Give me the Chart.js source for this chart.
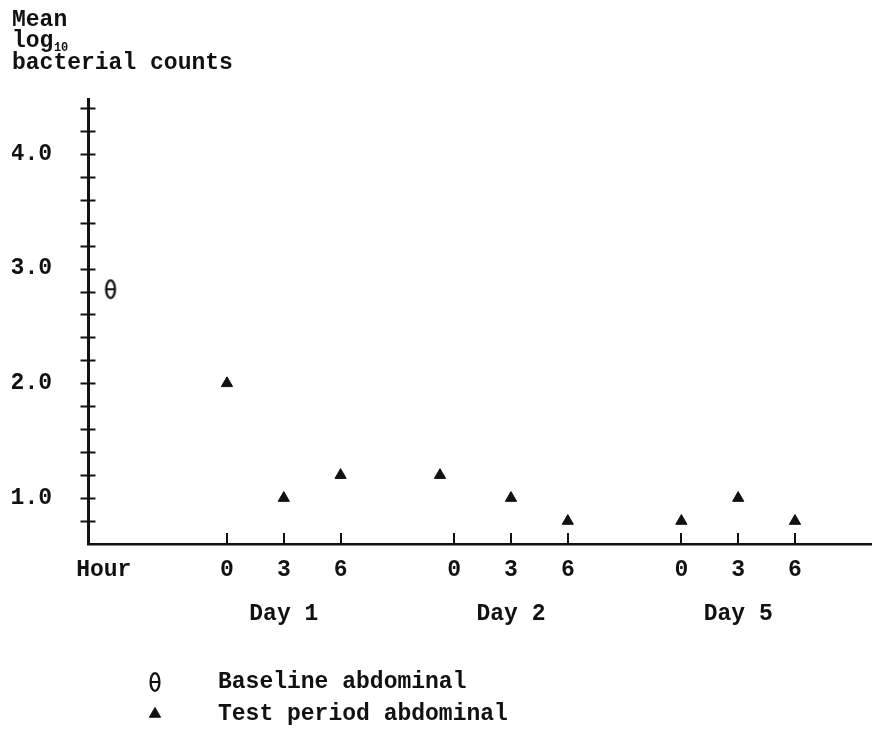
<!DOCTYPE html>
<html>
<head>
<meta charset="utf-8">
<script src="https://cdn.jsdelivr.net/npm/chart.js@4/dist/chart.umd.min.js"></script>
<style>
  html, body { margin: 0; padding: 0; background: #fff; }
  #wrap { width: 872px; height: 736px; position: relative; }
</style>
</head>
<body>
<div id="wrap"><canvas id="c"></canvas></div>
<script>
// Sampling slots along the time axis (one slot = 3 hours, gap between days)
const hourTickPos = [-2.17, 0, 1, 2, 4, 5, 6, 8, 9, 10];
const hourTickLabels = ['Hour', '0', '3', '6', '0', '3', '6', '0', '3', '6'];
const dayTickPos = [1, 5, 9];
const dayTickLabels = ['Day 1', 'Day 2', 'Day 5'];

// Y axis: minor ticks every 0.2, labels on whole values
const yLabelValues = [1, 2, 3, 4];
const yTickLabels = ['1.0', '2.0', '3.0', '4.0'];

// Mean log10 bacterial counts
const baselineX = [-2.05];
const baselineY = [2.82];
const testX = [0, 1, 2, 3.75, 5, 6, 8, 9, 10];
const testY = [2.0, 1.0, 1.2, 1.2, 1.0, 0.8, 0.8, 1.0, 0.8];

const seriesNames = ['Baseline abdominal', 'Test period abdominal'];
const titleLines = ['Mean', 'log', 'bacterial counts'];
const titleSubscript = '10';

const INK = '#111';
const FONT = { family: '"Liberation Mono", "DejaVu Sans Mono", monospace', size: 23, weight: 'bold' };
const TITLE_LH = 0.94;
const TITLE_PAD = { top: 9, bottom: 26 };

// Typewriter-style theta marker used for the baseline reading
function thetaMark() {
  const c = document.createElement('canvas');
  c.width = 14; c.height = 22;
  const g = c.getContext('2d');
  g.strokeStyle = INK; g.lineWidth = 2.3;
  g.beginPath(); g.ellipse(7, 11, 4.4, 8.8, 0, 0, Math.PI * 2); g.stroke();
  g.lineWidth = 2;
  g.beginPath(); g.moveTo(3, 11); g.lineTo(11, 11); g.stroke();
  return c;
}

// Small "10" subscript after "log" in the axis caption
const captionSubscript = {
  id: 'captionSubscript',
  afterDraw(chart) {
    const tb = chart.titleBlock;
    if (!tb) return;
    const { ctx } = chart;
    const lh = FONT.size * TITLE_LH;
    ctx.save();
    ctx.font = Chart.helpers.toFont(FONT).string;
    const w = ctx.measureText(titleLines[1]).width;
    ctx.font = Chart.helpers.toFont({ family: FONT.family, size: 12, weight: 'bold' }).string;
    ctx.fillStyle = INK;
    ctx.textBaseline = 'middle';
    ctx.textAlign = 'left';
    ctx.fillText(titleSubscript, tb.left + w + 0.5, tb.top + TITLE_PAD.top + 1.5 * lh + 7);
    ctx.restore();
  }
};

// Tick marks that cross the y axis and rise from the x axis
const crossTicks = {
  id: 'crossTicks',
  afterDraw(chart, args, opts) {
    const { ctx } = chart;
    const ys = chart.scales.y, xs = chart.scales.x;
    ctx.save();
    ctx.strokeStyle = INK;
    ctx.lineWidth = 2;
    ctx.lineCap = 'butt';
    ys.ticks.forEach(t => {
      if (t.value <= ys.min + 1e-9) return;
      const py = Math.round(ys.getPixelForValue(t.value)) + 0.5;
      ctx.beginPath();
      ctx.moveTo(ys.right - opts.yHalf, py);
      ctx.lineTo(ys.right + opts.yHalf, py);
      ctx.stroke();
    });
    xs.ticks.forEach((t, i) => {
      if (i === 0) return;
      const px = Math.round(xs.getPixelForValue(t.value));
      ctx.beginPath();
      ctx.moveTo(px, xs.top);
      ctx.lineTo(px, xs.top - opts.xLen);
      ctx.stroke();
    });
    ctx.restore();
  }
};

// Key stacked below the axis, one series per row
const stackedKey = {
  id: 'stackedKey',
  afterDraw(chart, args, opts) {
    const { ctx } = chart;
    const top = chart.scales.xDay.bottom;
    ctx.save();
    chart.data.datasets.forEach((ds, i) => {
      const y = top + opts.firstRow + i * opts.rowGap;
      ctx.fillStyle = ds.backgroundColor;
      ctx.strokeStyle = ds.borderColor;
      ctx.lineWidth = 1;
      Chart.helpers.drawPoint(ctx, {
        pointStyle: ds.pointStyle,
        radius: ds.pointRadius,
        borderWidth: ds.borderWidth,
        rotation: 0
      }, opts.markerX, y);
      ctx.fillStyle = INK;
      ctx.font = Chart.helpers.toFont(FONT).string;
      ctx.textBaseline = 'middle';
      ctx.textAlign = 'left';
      ctx.fillText(ds.label, opts.textX, y);
    });
    ctx.restore();
  }
};

const toPoints = (xs, ys) => xs.map((x, i) => ({ x, y: ys[i] }));

new Chart(document.getElementById('c'), {
  type: 'scatter',
  data: {
    datasets: [
      {
        label: seriesNames[0],
        data: toPoints(baselineX, baselineY),
        pointStyle: thetaMark(),
        pointRadius: 8,
        backgroundColor: INK,
        borderColor: INK,
        borderWidth: 0
      },
      {
        label: seriesNames[1],
        data: toPoints(testX, testY),
        pointStyle: 'triangle',
        pointRadius: 6.5,
        backgroundColor: INK,
        borderColor: INK,
        borderWidth: 1
      }
    ]
  },
  options: {
    responsive: true,
    maintainAspectRatio: false,
    animation: false,
    layout: { autoPadding: false, padding: { left: 12, right: 0, top: 0, bottom: 104 } },
    plugins: {
      legend: { display: false },
      tooltip: { enabled: false },
      title: {
        display: true,
        align: 'start',
        text: titleLines,
        color: INK,
        font: Object.assign({}, FONT, { lineHeight: TITLE_LH }),
        padding: TITLE_PAD
      },
      crossTicks: { yHalf: 7.5, xLen: 11 },
      stackedKey: { markerX: 155, textX: 218, firstRow: 50, rowGap: 32 }
    },
    scales: {
      x: {
        type: 'linear',
        position: 'bottom',
        weight: 0,
        min: -2.447,
        max: 11.356,
        afterBuildTicks: s => { s.ticks = hourTickPos.map(v => ({ value: v })); },
        afterFit: s => { s.height = 44; },
        grid: { display: false, drawTicks: false },
        border: { display: true, color: INK, width: 2.5 },
        ticks: {
          autoSkip: false,
          maxRotation: 0,
          padding: 12,
          color: INK,
          font: FONT,
          callback: (v, i) => hourTickLabels[i]
        }
      },
      xDay: {
        type: 'linear',
        position: 'bottom',
        weight: 1,
        min: -2.447,
        max: 11.356,
        afterBuildTicks: s => { s.ticks = dayTickPos.map(v => ({ value: v })); },
        afterFit: s => { s.height = 44; },
        grid: { display: false, drawTicks: false },
        border: { display: false },
        ticks: {
          autoSkip: false,
          maxRotation: 0,
          padding: 12,
          color: INK,
          font: FONT,
          callback: (v, i) => dayTickLabels[i]
        }
      },
      y: {
        type: 'linear',
        position: 'left',
        min: 0.6,
        max: 4.47,
        afterFit: s => { s.width = 76; },
        grid: { display: false, drawTicks: false },
        border: { display: true, color: INK, width: 3 },
        ticks: {
          stepSize: 0.2,
          includeBounds: false,
          autoSkip: false,
          padding: 36,
          color: INK,
          font: FONT,
          callback: v => {
            const k = yLabelValues.findIndex(w => Math.abs(w - v) < 1e-6);
            return k >= 0 ? yTickLabels[k] : '';
          }
        }
      }
    }
  },
  plugins: [crossTicks, stackedKey, captionSubscript]
});
</script>
</body>
</html>
